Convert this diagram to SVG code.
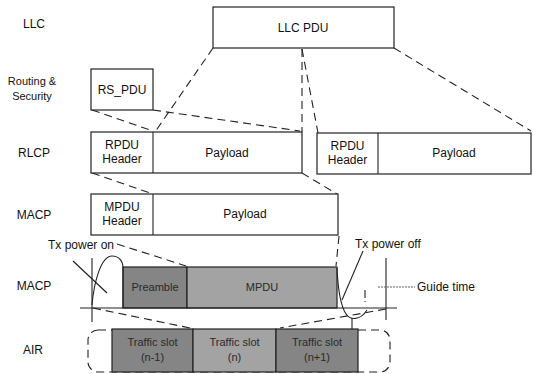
<svg xmlns="http://www.w3.org/2000/svg" width="533" height="374" viewBox="0 0 533 374">
<defs>
<style>
text{font-family:"Liberation Sans",Arial,sans-serif;font-size:12px;fill:#111;}
.c{text-anchor:middle;}
.sm{font-size:11px;}
.box{fill:#fff;stroke:#222;stroke-width:1.2;}
.ln{fill:none;stroke:#222;stroke-width:1.1;}
.dash{fill:none;stroke:#222;stroke-width:1.1;stroke-dasharray:8 5;}
.sh1{fill:#858585;stroke:#222;stroke-width:1.2;}
.sh2{fill:#a3a3a3;stroke:#222;stroke-width:1.2;}
.st{font-size:11px;fill:#2a2a2a;}
</style>
</defs>
<rect width="533" height="374" fill="#fff"/>
<g id="labels">
<text class="c" x="34" y="28">LLC</text>
<text class="c sm" x="32" y="85">Routing &amp;</text>
<text class="c sm" x="32" y="100">Security</text>
<text class="c" x="34" y="157">RLCP</text>
<text class="c" x="34" y="219">MACP</text>
<text class="c" x="34" y="290">MACP</text>
<text class="c" x="33" y="354">AIR</text>
</g>
<g id="connectors">
<path class="dash" d="M213,48 L155,132"/>
<path class="dash" d="M302,49 L302,132"/>
<path class="dash" d="M302,49 L318,133"/>
<path class="dash" d="M394,48 L531,131"/>
<path class="dash" d="M92,110 L153,131"/>
<path class="dash" d="M153,110 L300,131"/>
<path class="dash" d="M92,173 L153,194"/>
<path class="dash" d="M302,173 L337,194"/>
<path class="dash" d="M117,244 L186,266"/>
<path class="dash" d="M339,236 L336,266"/>
<path class="dash" d="M93,308 L190,328"/>
<path class="dash" d="M386,309 L280,328"/>
</g>
<g id="llc-pdu">
<rect class="box" x="213" y="7" width="181" height="41"/>
<text class="c" x="303" y="32">LLC PDU</text>
</g>
<g id="rs-pdu">
<rect class="box" x="91" y="69" width="62" height="41"/>
<text class="c" x="122" y="94">RS_PDU</text>
</g>
<g id="rlcp-1">
<rect class="box" x="91" y="132" width="211" height="41"/>
<line class="ln" x1="153" y1="132" x2="153" y2="173"/>
<text class="c" x="122" y="149">RPDU</text>
<text class="c" x="122" y="163">Header</text>
<text class="c" x="227" y="157">Payload</text>
</g>
<g id="rlcp-2">
<rect class="box" x="317" y="133" width="214" height="41"/>
<line class="ln" x1="378" y1="133" x2="378" y2="174"/>
<text class="c" x="347.5" y="150">RPDU</text>
<text class="c" x="347.5" y="164">Header</text>
<text class="c" x="454" y="157">Payload</text>
</g>
<g id="macp-frame">
<rect class="box" x="91" y="194" width="247" height="41"/>
<line class="ln" x1="153" y1="194" x2="153" y2="235"/>
<text class="c" x="122" y="211">MPDU</text>
<text class="c" x="122" y="225">Header</text>
<text class="c" x="245" y="218">Payload</text>
</g>
<g id="macp-burst">
<rect class="sh1" x="123" y="267" width="64" height="41"/>
<rect class="sh2" x="187" y="267" width="150" height="41"/>
<text class="c st" x="155" y="291">Preamble</text>
<text class="c st" x="262" y="291">MPDU</text>
<line class="ln" x1="80" y1="308" x2="397" y2="308"/>
<line class="ln" x1="92" y1="258" x2="92" y2="322"/>
<path class="ln" d="M92,305 C94,282 101,256 112,256 C119,256 123,261 123,268 L123,308"/>
<path class="ln" d="M337,268 C338,290 340,305 346,314 C350,320 360,321 367,310"/>
<line class="dash" x1="365" y1="290" x2="365" y2="302" style="stroke-dasharray:8 3"/>
<line class="ln" x1="352" y1="318" x2="352" y2="329"/>
</g>
<g id="tx-power-on">
<text x="48" y="249">Tx power on</text>
<line class="ln" x1="73" y1="261" x2="107" y2="293"/>
</g>
<g id="tx-power-off">
<text x="355" y="248">Tx power off</text>
<line class="ln" x1="363" y1="251" x2="342" y2="300"/>
</g>
<g id="guide-time">
<line class="ln" x1="386" y1="258" x2="386" y2="320"/>
<line class="ln" x1="378" y1="287" x2="415" y2="287" style="stroke:#666;stroke-dasharray:2 1"/>
<text x="417" y="291">Guide time</text>
</g>
<g id="air">
<rect class="dash" x="88" y="330" width="302" height="42" rx="10"/>
<rect class="sh1" x="112" y="329" width="81" height="43"/>
<rect class="sh2" x="193" y="329" width="83" height="43"/>
<rect class="sh1" x="276" y="329" width="82" height="43"/>
<text class="c st" x="152.5" y="346">Traffic slot</text>
<text class="c st" x="152.5" y="361">(n-1)</text>
<text class="c st" x="234.5" y="346">Traffic slot</text>
<text class="c st" x="234.5" y="361">(n)</text>
<text class="c st" x="317" y="346">Traffic slot</text>
<text class="c st" x="317" y="361">(n+1)</text>
</g>
</svg>
